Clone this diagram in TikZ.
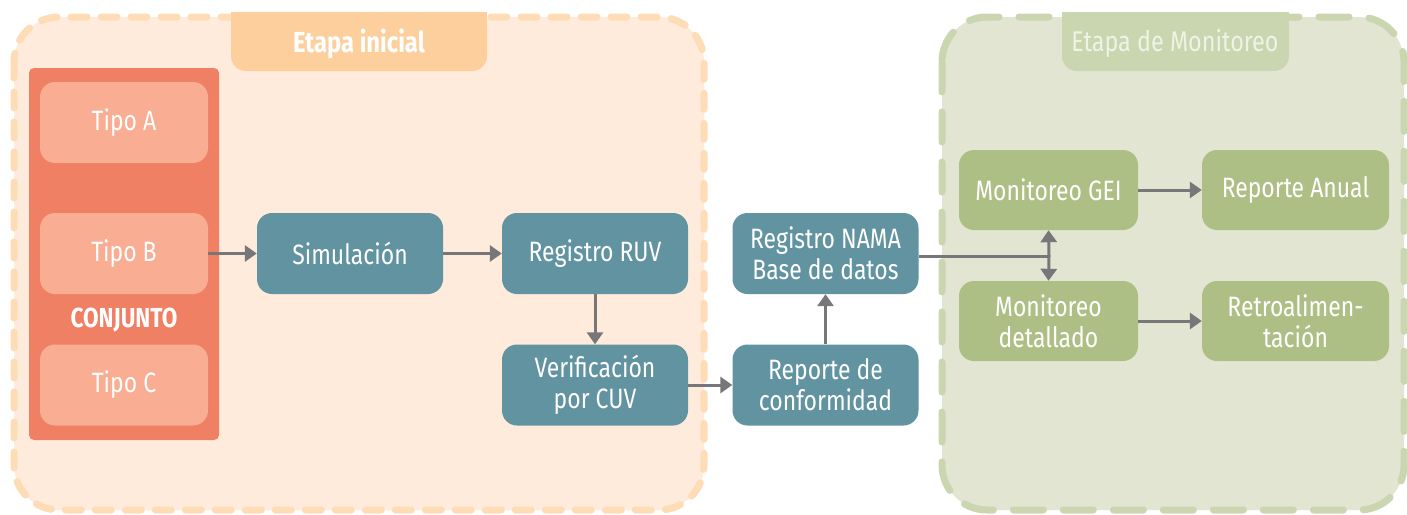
\documentclass[tikz,border=0pt]{standalone}
\usepackage{fontspec}
\setmainfont{Fira Sans}[FakeStretch=0.82]
\usetikzlibrary{arrows.meta}
\definecolor{peachbg}{HTML}{FEEBDB}
\definecolor{peachdash}{HTML}{FDDCB6}
\definecolor{peachtab}{HTML}{FDCF9D}
\definecolor{conj}{HTML}{F08064}
\definecolor{tipo}{HTML}{F9AD93}
\definecolor{teal}{HTML}{6193A1}
\definecolor{greenbg}{HTML}{E2E5D2}
\definecolor{greendash}{HTML}{C9D6B0}
\definecolor{greenbox}{HTML}{ADBF85}
\definecolor{greentxt}{HTML}{F0F2E6}
\definecolor{arrowgray}{HTML}{77777A}
\tikzset{
  x=1pt, y=-1pt,
  every node/.style={font=\fontsize{28}{31}\selectfont, text=white, align=center},
  tbox/.style={fill=teal, rounded corners=15pt, minimum width=186pt, minimum height=81pt, inner sep=0pt},
  gbox/.style={fill=greenbox, rounded corners=15pt, minimum width=187pt, minimum height=80pt, inner sep=0pt},
  tipobox/.style={fill=tipo, rounded corners=15pt, minimum width=168pt, minimum height=81pt, inner sep=0pt},
  conn/.style={draw=arrowgray, line width=3pt, -{Triangle[length=12pt,width=16pt]}},
  line/.style={draw=arrowgray, line width=3pt},
  twoline/.style={yshift=-3pt},
}
\begin{document}
\begin{tikzpicture}
\useasboundingbox (0,0) rectangle (1407,514);
% containers
\draw[fill=peachbg, draw=peachdash, line width=7pt, line cap=round, rounded corners=45pt, dash pattern=on 16pt off 14pt] (14,17) rectangle (704,510);
\draw[fill=greenbg, draw=greendash, line width=7pt, line cap=round, rounded corners=45pt, dash pattern=on 30pt off 20pt] (942,17) rectangle (1404,510);
% tabs
\fill[peachtab, rounded corners=15pt] (231,12) -- (231,71) -- (487,71) -- (487,12) -- cycle;
\fill[peachtab] (231,12) rectangle (487,30);
\node[font=\fontsize{29}{31}\selectfont\bfseries] (tab1) at (359,44) {Etapa inicial};
\fill[greendash, rounded corners=15pt] (1062,12) -- (1062,71) -- (1289,71) -- (1289,12) -- cycle;
\fill[greendash] (1062,12) rectangle (1289,30);
\node[text=greentxt, font=\fontsize{28.5}{31}\selectfont] (tab2) at (1175,43) {Etapa de Monitoreo};
% conjunto
\node[fill=conj, rounded corners=5pt, minimum width=190pt, minimum height=372pt, inner sep=0pt] (conj) at (124,254) {};
\node[tipobox] (ta) at (124,122.5) {Tipo A};
\node[tipobox] (tb) at (124,253.5) {Tipo B};
\node[tipobox] (tc) at (124,385) {Tipo C};
\node[font=\fontsize{27.5}{31}\selectfont\bfseries] (cj) at (124,320) {CONJUNTO};
% teal boxes
\node[tbox] (sim) at (350,253.5) {Simulación};
\node[tbox] (ruv) at (595,253.5) {Registro RUV};
\node[tbox] (cuv) at (595,385) {\vphantom{Ap}Verificación\\por CUV};
\node[tbox] (conf) at (825.5,385) {\vphantom{Ap}Reporte de\\conformidad};
\node[tbox] (nama) at (825.5,253.5) {\vphantom{Ap}Registro NAMA\\Base de datos};
% green boxes
\node[gbox, minimum width=179pt] (gei) at (1048.5,190) {Monitoreo GEI};
\node[gbox] (anual) at (1295.5,190) {Reporte Anual};
\node[gbox, minimum width=179pt] (det) at (1048.5,321) {\vphantom{Ap}Monitoreo\\detallado};
\node[gbox] (retro) at (1295.5,321) {\vphantom{Ap}Retroalimen-\\tación};
% connectors
\draw[conn] (tb.east) -- (sim.west);
\draw[conn] (sim.east) -- (ruv.west);
\draw[conn] (ruv.south) -- (cuv.north);
\draw[conn] (cuv.east) -- (conf.west);
\draw[conn] (conf.north) -- (nama.south);
\coordinate (junc) at (1049,256);
\draw[line] (nama.east |- junc) -- (junc);
\draw[conn] (junc) -- (gei.south);
\draw[conn] (junc) -- (det.north);
\draw[conn] (gei.east) -- (anual.west);
\draw[conn] (det.east) -- (retro.west);
\end{tikzpicture}
\end{document}
